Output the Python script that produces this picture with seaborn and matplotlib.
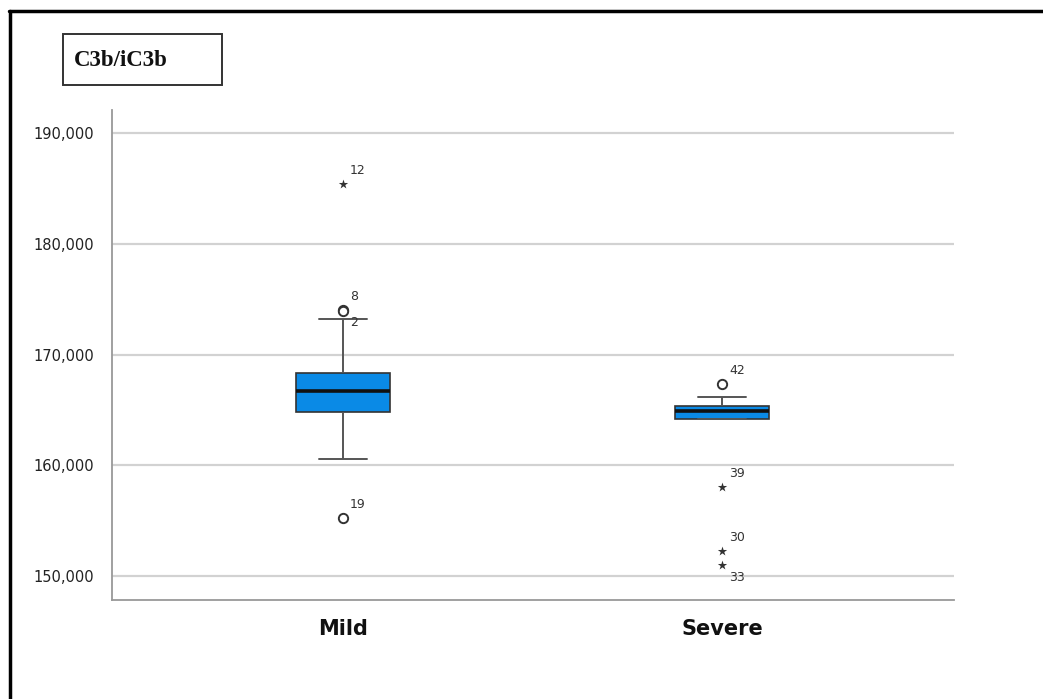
import numpy as np
import pandas as pd
import seaborn as sns
import matplotlib
matplotlib.use("Agg")
import matplotlib.pyplot as plt
from matplotlib.lines import Line2D
from matplotlib.patches import Rectangle
from matplotlib.ticker import FuncFormatter

# ---- data ----
groups = ["Mild", "Severe"]
# five-number summaries: lower whisker, Q1, median, Q3, upper whisker
mild_summary = [160600, 164780, 166700, 168350, 173180]
severe_summary = [164150, 164180, 164900, 165320, 166140]

# outliers: group, value, case id, kind ("o" = outlier, "*" = extreme)
out_group = ["Mild", "Mild", "Mild", "Mild", "Severe", "Severe", "Severe", "Severe"]
out_value = [185370, 174020, 173950, 155210, 167360, 158010, 152290, 150990]
out_id = ["12", "8", "2", "19", "42", "39", "30", "33"]
out_kind = ["*", "o", "o", "o", "o", "*", "*", "*"]

yticks = [150000, 160000, 170000, 180000, 190000]
title = "C3b/iC3b"

# ---- build frames ----
box_df = pd.DataFrame({
    "group": ["Mild"] * len(mild_summary) + ["Severe"] * len(severe_summary),
    "value": mild_summary + severe_summary,
})
out_df = pd.DataFrame({"group": out_group, "value": out_value, "id": out_id, "kind": out_kind})
pos = {g: i for i, g in enumerate(groups)}
out_df["x"] = out_df["group"].map(pos)

sns.set_theme(style="white")
plt.rcParams["font.family"] = ["DejaVu Sans"]

fig = plt.figure(figsize=(10.43, 6.99), dpi=100)
ax = fig.add_axes([0.1074, 0.1416, 0.8073, 0.7010])

sns.boxplot(data=box_df, x="group", y="value", order=groups, ax=ax,
            width=0.25, whis=np.inf, color="#0a8ae6", saturation=1, linecolor="#333333",
            linewidth=1.2, showfliers=False,
            medianprops={"color": "#111111", "linewidth": 2.6},
            whiskerprops={"color": "#555555", "linewidth": 1.4},
            capprops={"color": "#555555", "linewidth": 1.4},
            boxprops={"edgecolor": "#333333", "linewidth": 1.2})

circ = out_df[out_df["kind"] == "o"]
star = out_df[out_df["kind"] == "*"]
ax.scatter(circ["x"], circ["value"], s=45, facecolors="white", edgecolors="#333333",
           linewidths=1.4, zorder=5)
ax.scatter(star["x"], star["value"], s=50, marker="*", color="#333333", linewidths=0, zorder=5)

for _, r in out_df.iterrows():
    if r["id"] in ("33", "2"):
        dy, va = -4, "top"
    else:
        dy, va = 5, "bottom"
    ax.annotate(r["id"], (r["x"], r["value"]), xytext=(5, dy), textcoords="offset points",
                fontsize=9, color="#333333", va=va, ha="left", zorder=6)

ax.set_ylim(147830, 192080)
ax.set_xlim(-0.609, 1.612)
ax.set_yticks(yticks)
ax.yaxis.set_major_formatter(FuncFormatter(lambda v, p: f"{int(v):,}"))
ax.grid(axis="y", color="#d2d2d2", linewidth=1.6)
ax.set_axisbelow(True)
ax.set_xlabel("")
ax.set_ylabel("")
ax.tick_params(axis="y", length=0, pad=13, labelsize=10.5, labelcolor="#222222")
ax.tick_params(axis="x", length=0, pad=14)
for lab in ax.get_xticklabels():
    lab.set_fontsize(15)
    lab.set_fontweight("bold")
    lab.set_color("#111111")
for s in ["top", "right"]:
    ax.spines[s].set_visible(False)
ax.spines["left"].set_color("#999999")
ax.spines["bottom"].set_color("#999999")
ax.spines["left"].set_linewidth(1.3)
ax.spines["bottom"].set_linewidth(1.3)

# title box
fig.add_artist(Rectangle((63 / 1043, 1 - 85 / 699), 159 / 1043, 51 / 699, transform=fig.transFigure,
                         facecolor="white", edgecolor="#333333", linewidth=1.4))
fig.text(74 / 1043, 1 - 60 / 699, title, fontsize=16.5, fontweight="bold",
         family=["Liberation Serif", "DejaVu Serif"], color="#111111", va="center", ha="left")

# outer frame (top and left)
fig.add_artist(Line2D([8.5 / 1043, 1.0], [1 - 11 / 699, 1 - 11 / 699], color="black", linewidth=2.5,
                      transform=fig.transFigure))
fig.add_artist(Line2D([9.5 / 1043, 9.5 / 1043], [0.0, 1 - 11 / 699], color="black", linewidth=2.5,
                      transform=fig.transFigure))

fig.savefig("out.png", dpi=100, facecolor="white")
